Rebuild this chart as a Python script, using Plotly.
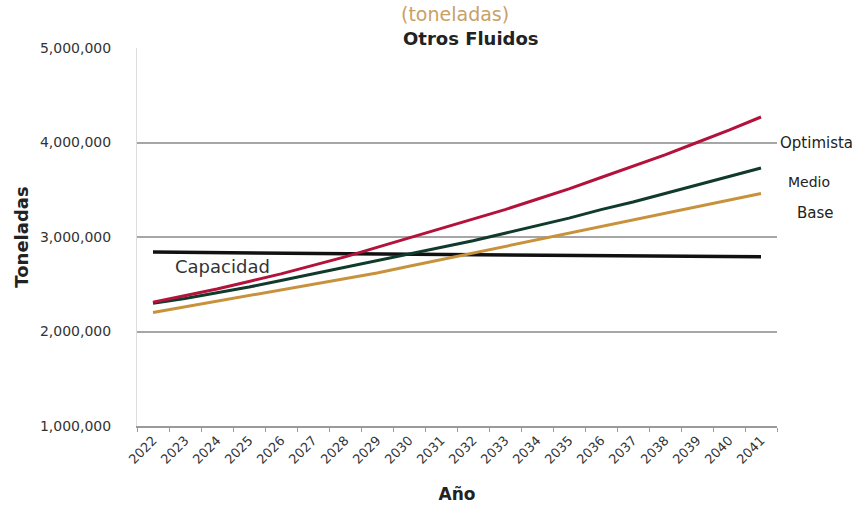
import plotly.graph_objects as go

years = [str(y) for y in range(2022, 2042)]
optimista = [2310000, 2380000, 2450000, 2530000, 2610000, 2700000, 2790000, 2890000, 2990000, 3090000,
             3190000, 3290000, 3400000, 3510000, 3630000, 3750000, 3870000, 4000000, 4130000, 4270000]
medio = [2300000, 2350000, 2410000, 2470000, 2540000, 2610000, 2680000, 2750000, 2820000, 2890000,
         2960000, 3040000, 3120000, 3200000, 3290000, 3370000, 3460000, 3550000, 3640000, 3730000]
base = [2200000, 2260000, 2320000, 2380000, 2440000, 2500000, 2560000, 2620000, 2690000, 2760000,
        2830000, 2900000, 2970000, 3040000, 3110000, 3180000, 3250000, 3320000, 3390000, 3460000]
capacidad = [2840000, 2837000, 2835000, 2832000, 2830000, 2827000, 2825000, 2822000, 2819000, 2816000,
             2814000, 2811000, 2808000, 2806000, 2803000, 2800000, 2798000, 2795000, 2793000, 2790000]
y_ticks = [1000000, 2000000, 3000000, 4000000, 5000000]

FONT = "DejaVu Sans"

fig = go.Figure()
fig.add_trace(go.Scatter(x=years, y=capacidad, mode="lines", name="Capacidad",
                         line=dict(color="#111111", width=3.5)))
fig.add_trace(go.Scatter(x=years, y=base, mode="lines", name="Base",
                         line=dict(color="#C8923C", width=3)))
fig.add_trace(go.Scatter(x=years, y=medio, mode="lines", name="Medio",
                         line=dict(color="#0F3A2C", width=3)))
fig.add_trace(go.Scatter(x=years, y=optimista, mode="lines", name="Optimista",
                         line=dict(color="#B3123A", width=3)))

fig.update_layout(
    width=865, height=508,
    margin=dict(l=137, r=88, t=48, b=82),
    paper_bgcolor="white", plot_bgcolor="white",
    showlegend=False,
    font=dict(family=FONT, color="#222222", size=13),
    xaxis=dict(
        type="category", range=[-0.5, 19.5], automargin=False,
        showgrid=False, showline=True, linecolor="#9A9A9A", linewidth=1.5,
        ticks="outside", tickson="boundaries", ticklen=4, tickcolor="#9A9A9A",
        tickangle=-45, tickfont=dict(size=13, color="#333333"),
        title=dict(text="<b>Año</b>", font=dict(size=17, color="#222222"), standoff=22),
    ),
    yaxis=dict(
        range=[1000000, 5000000], tickvals=y_ticks, tickformat=",", automargin=False,
        showgrid=True, gridcolor="#A6A6A6", gridwidth=1.5,
        showline=True, linecolor="#DDDDDD", linewidth=1,
        zeroline=False, ticks="", ticklabelstandoff=22,
        tickfont=dict(size=14, color="#333333"),
        title=dict(text="<b>Toneladas</b>", font=dict(size=18, color="#222222"), standoff=6),
    ),
)

fig.add_annotation(xref="paper", yref="paper", x=0.497, y=1.0, yshift=34, yanchor="middle",
                   text="(toneladas)", showarrow=False,
                   font=dict(size=19, color="#C9A066", family=FONT))
fig.add_annotation(xref="paper", yref="paper", x=0.522, y=1.0, yshift=10, yanchor="middle",
                   text="<b>Otros Fluidos</b>", showarrow=False,
                   font=dict(size=18, color="#222222", family=FONT))

fig.add_annotation(x=1, y=capacidad[1], text="Capacidad", showarrow=False,
                   xanchor="left", yanchor="middle", yshift=-14, xshift=-12,
                   font=dict(size=18, color="#333333"))
fig.add_annotation(x=19, y=4000000, text="Optimista", showarrow=False,
                   xanchor="left", yanchor="middle", xshift=17,
                   font=dict(size=15, color="#222222"))
fig.add_annotation(x=19, y=medio[-1], text="Medio", showarrow=False,
                   xanchor="left", yanchor="middle", xshift=25, yshift=-14,
                   font=dict(size=14, color="#222222"))
fig.add_annotation(x=19, y=base[-1], text="Base", showarrow=False,
                   xanchor="left", yanchor="middle", xshift=34, yshift=-19,
                   font=dict(size=15, color="#222222"))

fig.write_html("out.html", config={"displayModeBar": False},
               post_script="document.body.style.margin='0';")
